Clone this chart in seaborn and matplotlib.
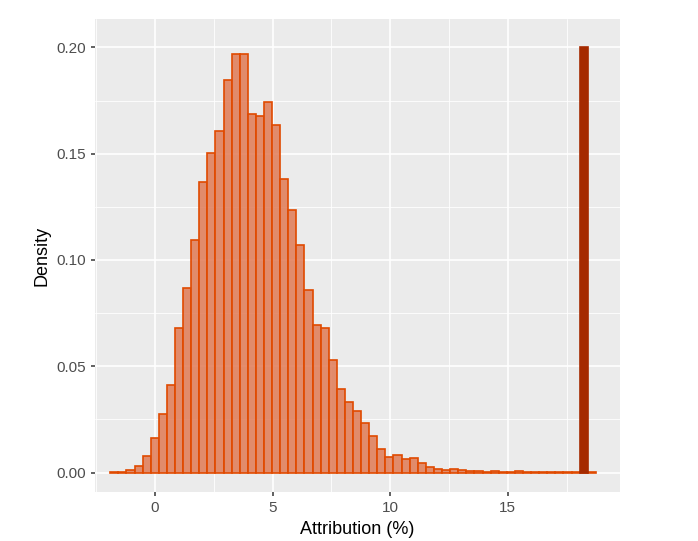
import numpy as np
import pandas as pd
import matplotlib
matplotlib.use("Agg")
import matplotlib.pyplot as plt
import seaborn as sns

# Histogram bins (Attribution %) and densities
bin_start = -1.9
bin_width = 0.344
densities = [0.0002, 0.0003, 0.0013, 0.0033, 0.0079, 0.0162, 0.0274, 0.0412, 0.0679, 0.0868,
             0.1094, 0.1366, 0.1503, 0.1607, 0.1846, 0.1967, 0.1967, 0.1687, 0.1679, 0.1745,
             0.1633, 0.1380, 0.1236, 0.1071, 0.0857, 0.0693, 0.0682, 0.0528, 0.0393, 0.0332,
             0.0291, 0.0231, 0.0171, 0.0113, 0.0074, 0.0083, 0.0063, 0.0069, 0.0044, 0.0024,
             0.0019, 0.0014, 0.0019, 0.0011, 0.0008, 0.0005, 0.0002, 0.0008, 0.0002, 0.0002,
             0.0005, 0.0001, 0.0001, 0.0001, 0.0001, 0.0001, 0.0001, 0.0001, 0.0, 0.0003]
highlight_bin = 58
highlight_value = 0.20

edges = bin_start + bin_width * np.arange(len(densities) + 1)
centers = (edges[:-1] + edges[1:]) / 2
df = pd.DataFrame({"x": centers, "w": densities})
hl = pd.DataFrame({"x": [centers[highlight_bin]], "w": [highlight_value]})

sns.set_theme(style="darkgrid", rc={"axes.facecolor": "#ebebeb", "grid.color": "white",
                                    "font.family": "Liberation Sans"})
fig, ax = plt.subplots(figsize=(6.98, 5.41), dpi=100)
fig.subplots_adjust(left=0.136, right=0.888, top=0.965, bottom=0.09)

sns.histplot(data=df, x="x", weights="w", bins=list(edges), color="#e07a55", alpha=0.85,
             edgecolor="#e04a00", linewidth=1.2, ax=ax)
sns.histplot(data=hl, x="x", weights="w", bins=list(edges[highlight_bin:highlight_bin + 2]),
             color="#a52a00", alpha=1, edgecolor="#a52a00", linewidth=1.2, ax=ax)

ax.set_xlim(-2.55, 19.76)
ax.set_ylim(-0.0093, 0.2134)
ax.set_xticks([0, 5, 10, 15])
ax.set_yticks([0.0, 0.05, 0.10, 0.15, 0.20])
ax.set_yticklabels(["0.00", "0.05", "0.10", "0.15", "0.20"])
ax.set_xticks(np.arange(-2.5, 20, 5), minor=True)
ax.set_yticks(np.arange(0.025, 0.2, 0.05), minor=True)
ax.grid(which="major", color="white", linewidth=1.2)
ax.grid(which="minor", color="white", linewidth=0.6)
ax.tick_params(axis="both", which="major", labelsize=11, colors="#4d4d4d", length=3,
               bottom=True, left=True)
ax.tick_params(axis="both", which="minor", length=0)
ax.set_xlabel("Attribution (%)", fontsize=13, color="black")
ax.set_ylabel("Density", fontsize=13, color="black")
for s in ax.spines.values():
    s.set_visible(False)

fig.savefig("out.png")
